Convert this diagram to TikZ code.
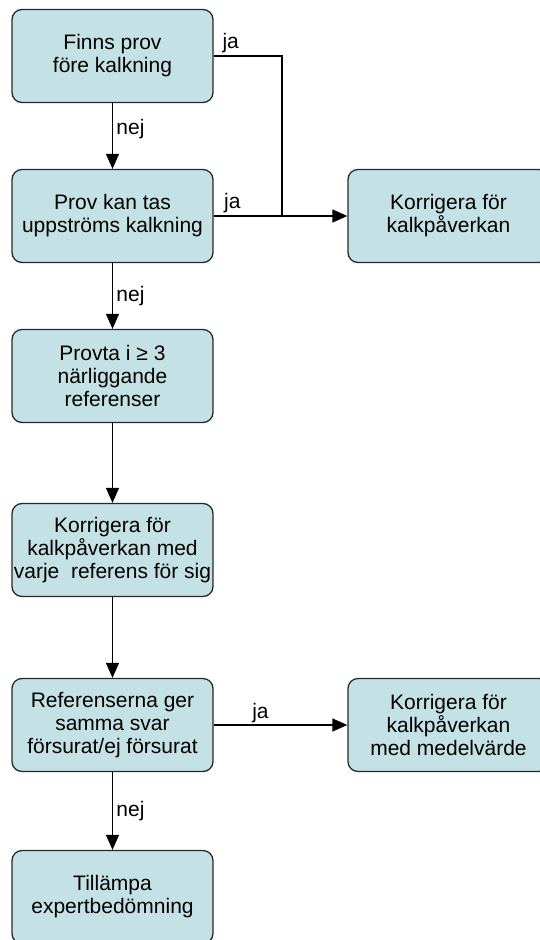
\documentclass[tikz,border=0pt]{standalone}
\usepackage{fontspec}
\setmainfont{Liberation Sans}
\usepackage{tikz}
\usetikzlibrary{positioning}
\usetikzlibrary{arrows.meta}
\usepackage{xcolor}
\definecolor{boxfill}{RGB}{196,226,229}
\definecolor{boxline}{RGB}{40,40,40}

\begin{document}
\begin{tikzpicture}[main/.style = {draw=boxline, fill=boxfill, rounded corners=10pt, minimum width=201pt, minimum height=93pt, inner sep=0pt, align=center}, lab/.style = {inner sep=2pt}, >={Triangle[length=15pt,width=13pt]}, line width=1.3pt, font=\fontsize{21}{23}\selectfont, node distance=160pt]
\useasboundingbox (-112.5pt,56pt) rectangle (427.5pt,-884pt);
\node[main] (1) {Finns prov\\före kalkning};
\node[main] (2) [below of=1] {Prov kan tas\\uppströms kalkning};
\node[main] (3) [below of=2] {Provta i ≥ 3\\närliggande\\referenser};
\node[main] (4) [node distance=174pt, below of=3] {Korrigera för\\kalkpåverkan med\\varje\ \ referens för sig};
\node[main] (5) [node distance=175pt, below of=4] {Referenserna ger\\samma svar\\försurat/ej försurat};
\node[main] (6) [node distance=172pt, below of=5] {Tillämpa\\expertbedömning};
\node[main] (7) [node distance=336pt, right of=2] {Korrigera för\\kalkpåverkan};
\node[main] (8) [node distance=336pt, right of=5] {Korrigera för\\kalkpåverkan\\med medelvärde};
\coordinate (9) at (169.5pt,-160pt);
\path (1) edge [->] node [right, pos=0.4] {nej} (2);
\path (2) edge [->] node [right] {nej} (3);
\path (3) edge [->] (4);
\path (4) edge [->] (5);
\path (5) edge [->] node [right] {nej} (6);
\path (2) edge [->] node [lab, above, pos=0.14] {ja} (7);
\path (5) edge [->] node [lab, above, pos=0.35] {ja} (8);
\draw (1.east) -- node [lab, above, pos=0.25] {ja} (1.east -| 9) -- (9);
\end{tikzpicture}
\end{document}
